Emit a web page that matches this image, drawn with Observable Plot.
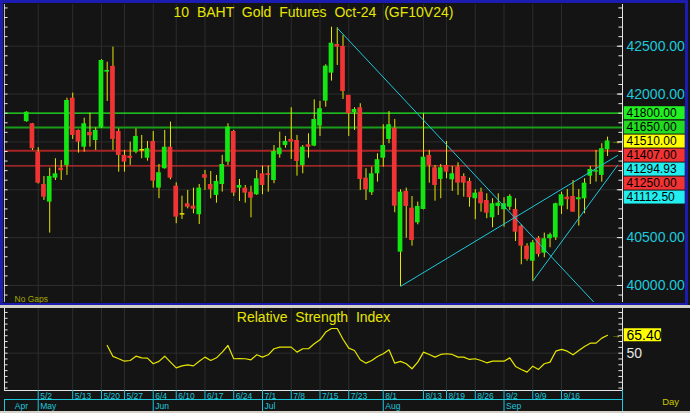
<!DOCTYPE html>
<html><head><meta charset="utf-8">
<script src="https://cdn.jsdelivr.net/npm/d3@7"></script>
<script src="https://cdn.jsdelivr.net/npm/@observablehq/plot@0.6"></script>
<style>
html,body{margin:0;padding:0;background:#d4d0c8;}
#wrap{position:relative;width:690px;height:413px;overflow:hidden;background:#d4d0c8;}
#main{position:absolute;left:0;top:0;line-height:0;}
#rsi{position:absolute;left:0;top:308px;line-height:0;}
#border{position:absolute;left:0;top:0;width:688px;height:305px;border:3px solid #1c1cb0;border-bottom-width:2px;box-sizing:border-box;pointer-events:none;}
</style></head>
<body><div id="wrap"><div id="main"></div><div id="rsi"></div><div id="border"></div></div>
<script>
// ---------- data ----------
const title = "10  BAHT  Gold  Futures  Oct-24  (GF10V24)";
const rsiTitle = "Relative  Strength  Index";
const open = [41712,41690,41393,41055,40871,41121,41226,41254,41957,41620,
41445,41599,41515,41648,42229,42289,41609,41359,41351,41393,
41418,41330,41505,41017,41220,41445,41038,40748,40854,40829,
40739,41157,41055,40941,41055,41289,41609,41017,41017,40975,
40948,41167,41167,41097,41366,41463,41526,41515,41254,41470,
41456,41665,41926,42219,42518,42498,41986,41805,41857,41121,
40969,41167,41330,41526,41644,40348,40983,40808,40655,40794,
41359,41230,41108,41254,41104,41236,41139,41087,40906,40975,
40888,40707,40826,40791,40818,40794,40620,40411,40254,40494,
40338,40488,40498,40829,40923,40930,40896,40906,41142,41185,
41150,41418];
const high = [41815,41693,41439,41139,41226,41324,41306,41957,42010,41625,
41748,41800,41648,42360,42333,42490,41637,41411,41498,41637,
41568,41505,41609,41264,41620,41707,41073,40933,40993,41017,
41055,41202,41191,41150,41359,41690,41620,41108,41045,41038,
41202,41247,41247,41463,41602,41557,41857,41568,41463,41585,
41940,41923,42306,42699,42693,42613,41986,41857,41899,41220,
41236,41376,41679,41818,41735,41000,41017,40930,40871,41794,
41411,41254,41264,41505,41244,41282,41167,41121,41000,41017,
40958,40906,40958,40916,40948,40906,40634,40436,40470,40512,
40547,40547,40860,40975,41003,41097,41003,41115,41244,41411,
41481,41550];
const low = [41705,41411,41060,40888,40547,41097,41097,41150,41526,41383,
41393,41445,41411,41640,41923,41411,41184,41184,41254,41376,
41324,41299,41017,40906,41215,41104,40645,40690,40801,40749,
40637,40993,40906,40860,40975,41254,40930,40878,40860,40707,
40941,40948,40975,41063,41330,41435,41317,41142,41167,41330,
41450,41557,41863,42135,42299,41944,41557,41620,40993,40888,
40941,41080,41236,41481,40760,39990,40494,40411,40634,40790,
41069,40881,40906,41115,40983,40941,40923,40818,40687,40766,
40697,40603,40731,40609,40784,40460,40216,40254,40045,40296,
40289,40394,40470,40742,40791,40766,40620,40749,41055,41080,
41080,41348];
const close = [41810,41429,41069,40923,41139,41167,41199,41933,41568,41498,
41690,41564,41620,42351,42247,41526,41359,41289,41327,41557,
41412,41429,41090,41178,41445,41121,40714,40742,40818,40797,
41017,41121,41000,41087,41264,41655,40965,41045,40965,40912,
41115,41045,41150,41400,41435,41505,41498,41296,41445,41445,
41735,41847,42292,42532,42490,42027,41794,41839,41108,41000,
41167,41314,41463,41679,40829,40975,40826,40470,40826,41341,
41254,41045,41230,41184,41167,41069,41069,40917,40965,40854,
40755,40854,40860,40854,40930,40557,40411,40272,40446,40324,
40488,40530,40854,40948,40896,40766,40917,41069,41212,41200,
41429,41510];
const rsiStart = 14;
const rsiValues = [56.6,47.2,45.2,43.1,43.7,47.4,46.0,45.7,40.9,42.9,
47.4,42.3,37.4,39.1,40.0,39.1,43.1,46.6,43.7,46.0,
50.9,56.6,45.2,45.4,45.2,44.3,48.6,46.6,48.6,53.8,
55.2,55.2,55.2,50.9,53.8,53.8,58.1,61.5,68.1,71.2,
71.2,62.0,54.3,52.3,44.3,41.4,43.7,47.2,49.5,52.9,
41.4,42.9,40.9,36.6,42.3,50.9,48.9,46.6,48.9,49.5,
48.9,46.6,46.6,44.6,45.2,43.7,41.7,43.1,43.1,43.1,
46.0,38.6,36.0,33.7,38.8,36.0,40.9,42.3,51.7,53.2,
51.7,48.6,52.3,55.8,58.6,58.6,62.9,65.4];
const levelValues = [41800, 41650, 41407, 41250];
const labelValues = [41800, 41650, 41510, 41407, 41294.93, 41250, 41112.50];
const priceTickLabels = [42500, 42000, 40500, 40000];
const trendX1 = [54, 65, 88];
const trendY1 = [42690, 39990, 40045];
const trendX2 = [100, 101, 101];
const trendY2 = [39737, 41294.93, 41112.50];
const dayTickIdx = [2,8,13,17,22,26,31,36,41,46,51,56,62,69,73,78,83,88,93];
const dayLabels = ["5/2","5/13","5/20","5/27","6/4","6/10","6/17","6/24","7/1","7/8","7/15","7/23","8/1","8/13","8/19","8/26","9/2","9/9","9/16"];
const monthIdx = [2,22,41,62,83];
const monthLabels = ["Apr","May","Jun","Jul","Aug","Sep"];
const rsiTickLabel = [50];

// ---------- setup ----------
const FONT = "Liberation Sans, Arial, sans-serif";
const BG = "#141414", GRID = "#2d2d2d", WHITE = "#e4e4e4", CYAN = "#1ec8dc",
      YEL = "#e6e600", GREEN = "#14e614", RED = "#f03434";
const xd = [-3.86, 103.6], xr = [4, 622];
const yd = [39822, 42936], yr = [302, 4];
const rd = [17.9, 88.4], rr = [82, 0];

const bars = open.map((o, i) => ({i, o, h: high[i], l: low[i], c: close[i]}));
const up = bars.filter(d => d.c - d.o >= 10);
const dn = bars.filter(d => d.o - d.c >= 10);
const doji = bars.filter(d => Math.abs(d.c - d.o) < 10);
const rsi = rsiValues.map((v, k) => ({i: rsiStart + k, v}));
const last = bars[bars.length - 1];
const xExt = 102.8;
const trends = trendX1.map((x1, k) => {
  const s = (trendY2[k] - trendY1[k]) / (trendX2[k] - x1);
  return {x1, y1: trendY1[k], x2: xExt, y2: trendY1[k] + s * (xExt - x1)};
});

const yS = Plot.scale({y: {domain: yd, range: yr}});
// stack price labels so they do not overlap
const labelPix = [];
labelValues.forEach((v, k) => {
  let p = yS.apply(v);
  if (k > 0 && p < labelPix[k - 1] + 14) p = labelPix[k - 1] + 14;
  labelPix.push(p);
});
const labelFills = ["#22f022","#22dc22","#ffff00","#f03434","#22eef0","#f03434","#22eef0"];
const labels = labelValues.map((v, k) => ({
  v, yc: yS.invert(labelPix[k]), y1: yS.invert(labelPix[k] - 6.5), y2: yS.invert(labelPix[k] + 6.5),
  fill: labelFills[k], text: v.toFixed(2)
}));

const minor = d3.range(39900, 42901, 100);
const major = minor.filter(v => v % 500 === 0);

const main = Plot.plot({
  width: 690, height: 305,
  marginLeft: 4, marginRight: 68, marginTop: 4, marginBottom: 3,
  x: {domain: xd, range: xr, axis: null},
  y: {domain: yd, range: yr, axis: null},
  style: {background: BG, fontFamily: FONT, overflow: "visible"},
  marks: [
    Plot.ruleY(major, {stroke: GRID}),
    Plot.ruleX(dayTickIdx, {stroke: GRID}),
    Plot.ruleY([levelValues[0]], {stroke: "#22f022", strokeWidth: 1.3}),
    Plot.ruleY([levelValues[1]], {stroke: "#1a9c1a", strokeWidth: 2}),
    Plot.ruleY([levelValues[2]], {stroke: "#a82424", strokeWidth: 2}),
    Plot.ruleY([levelValues[3]], {stroke: "#cc2e2e", strokeWidth: 1.3}),
    Plot.ruleX(bars, {x: "i", y1: "l", y2: "h", stroke: YEL, strokeWidth: 1}),
    Plot.rect(up, {x1: d => d.i - 0.41, x2: d => d.i + 0.41, y1: "o", y2: "c", fill: GREEN}),
    Plot.rect(dn, {x1: d => d.i - 0.41, x2: d => d.i + 0.41, y1: "o", y2: "c", fill: RED}),
    Plot.link(doji, {x1: d => d.i - 0.41, x2: d => d.i + 0.41, y1: "o", y2: "o", stroke: YEL, strokeWidth: 1.5}),
    Plot.link(trends, {x1: "x1", y1: "y1", x2: "x2", y2: "y2", stroke: CYAN, strokeWidth: 1, clip: true}),
    Plot.ruleX([xd[0]], {stroke: "#bcbcbc"}),
    Plot.ruleX([xd[1]], {stroke: WHITE}),
    Plot.ruleY(minor, {x1: xd[0], x2: xd[0] + 0.62, stroke: WHITE}),
    Plot.ruleY(minor, {x1: xd[1] - 0.62, x2: xd[1], stroke: WHITE}),
    Plot.ruleY(major, {x1: xd[1] - 0.9, x2: xd[1], stroke: WHITE}),
    Plot.text(priceTickLabels, {x: xd[1], y: d => d, text: d => d.toFixed(2), dx: 4, textAnchor: "start", fill: CYAN, fontSize: 14}),
    Plot.rect(labels, {x1: xd[1] + 0.3, x2: xd[1] + 10.9, y1: "y1", y2: "y2", fill: "fill"}),
    Plot.text(labels, {x: xd[1], y: "yc", text: "text", dx: 4, textAnchor: "start", fill: "#000", fontSize: 12, ariaLabel: "pricelabels"}),
    Plot.text([last], {x: d => d.i + 1.45, y: "c", text: () => "\u2192", fill: YEL, fontSize: 10, fontWeight: "bold"}),
    Plot.text([title], {frameAnchor: "top", dy: 3, fill: YEL, fontSize: 14}),
    Plot.text(["No Gaps"], {frameAnchor: "bottom-left", dx: 10, dy: -1, fill: "#a8a800", fontSize: 8.5})
  ]
});
main.querySelectorAll("g[aria-label='pricelabels'] text").forEach(n => n.setAttribute("letter-spacing", "0.8"));
document.getElementById("main").appendChild(main);

// ---------- RSI panel ----------
const rS = Plot.scale({y: {domain: rd, range: rr}});
const yAt = p => rS.invert(p);
const rsiTicks = d3.range(20, 90, 5);
const lastR = rsi[rsi.length - 1];
const monthTickX = [xd[0], ...monthIdx, xd[1]];
const monthText = monthLabels.map((t, k) => ({t, x: k === 0 ? (xd[0] + monthIdx[0]) / 2 : monthIdx[k - 1], first: k === 0}));

const rsiPlot = Plot.plot({
  width: 690, height: 103,
  marginLeft: 4, marginRight: 68, marginTop: 0, marginBottom: 21,
  x: {domain: xd, range: xr, axis: null},
  y: {domain: rd, range: rr, axis: null},
  style: {background: BG, fontFamily: FONT, overflow: "visible"},
  marks: [
    Plot.ruleY(rsiTickLabel, {stroke: GRID}),
    Plot.ruleX(dayTickIdx, {stroke: GRID}),
    Plot.line(rsi, {x: "i", y: "v", stroke: YEL, strokeWidth: 1.2}),
    Plot.text([rsiTitle], {frameAnchor: "top", dy: 4, fill: YEL, fontSize: 14}),
    Plot.ruleX([xd[0]], {stroke: WHITE}),
    Plot.ruleX([xd[1]], {stroke: WHITE}),
    Plot.ruleY([rd[0]], {stroke: WHITE}),
    Plot.ruleY(rsiTicks, {x1: xd[0], x2: xd[0] + 0.62, stroke: WHITE}),
    Plot.ruleY(rsiTicks, {x1: xd[1] - 0.62, x2: xd[1], stroke: WHITE}),
    Plot.text(rsiTickLabel, {x: xd[1], y: d => d, text: d => String(d), dx: 4, textAnchor: "start", fill: WHITE, fontSize: 14}),
    Plot.rect([lastR], {x1: xd[1] + 0.3, x2: xd[1] + 6.8, y1: d => rS.invert(rS.apply(d.v) - 6.5), y2: d => rS.invert(rS.apply(d.v) + 6.5), fill: "#ffff00"}),
    Plot.text([lastR], {x: xd[1], y: "v", text: d => d.v.toFixed(2), dx: 4, textAnchor: "start", fill: "#000", fontSize: 14}),
    Plot.text([lastR], {x: d => d.i + 1.45, y: "v", text: () => "\u2192", fill: YEL, fontSize: 10, fontWeight: "bold"}),
    // date axis
    Plot.ruleX(dayTickIdx, {y1: yAt(82), y2: yAt(91), stroke: CYAN}),
    Plot.ruleY([yAt(91)], {stroke: CYAN}),
    Plot.ruleX(monthTickX, {y1: yAt(91), y2: yAt(103), stroke: CYAN}),
    Plot.ruleX([xd[1]], {y1: yAt(82), y2: yAt(91), stroke: CYAN}),
    Plot.text(dayTickIdx, {x: d => d, y: yAt(87.5), text: (d, k) => dayLabels[k], dx: 2, textAnchor: "start", fill: CYAN, fontSize: 8.5}),
    Plot.text(monthText.filter(d => !d.first), {x: "x", y: yAt(97.5), text: "t", dx: 2, textAnchor: "start", fill: CYAN, fontSize: 8.5}),
    Plot.text(monthText.filter(d => d.first), {x: "x", y: yAt(97.5), text: "t", textAnchor: "middle", fill: CYAN, fontSize: 8.5}),
    Plot.text(["Day"], {x: xd[1] + 6.9, y: yAt(93), text: d => d, textAnchor: "start", fill: "#c8c800", fontSize: 9.5})
  ]
});
document.getElementById("rsi").appendChild(rsiPlot);
</script>
</body></html>
